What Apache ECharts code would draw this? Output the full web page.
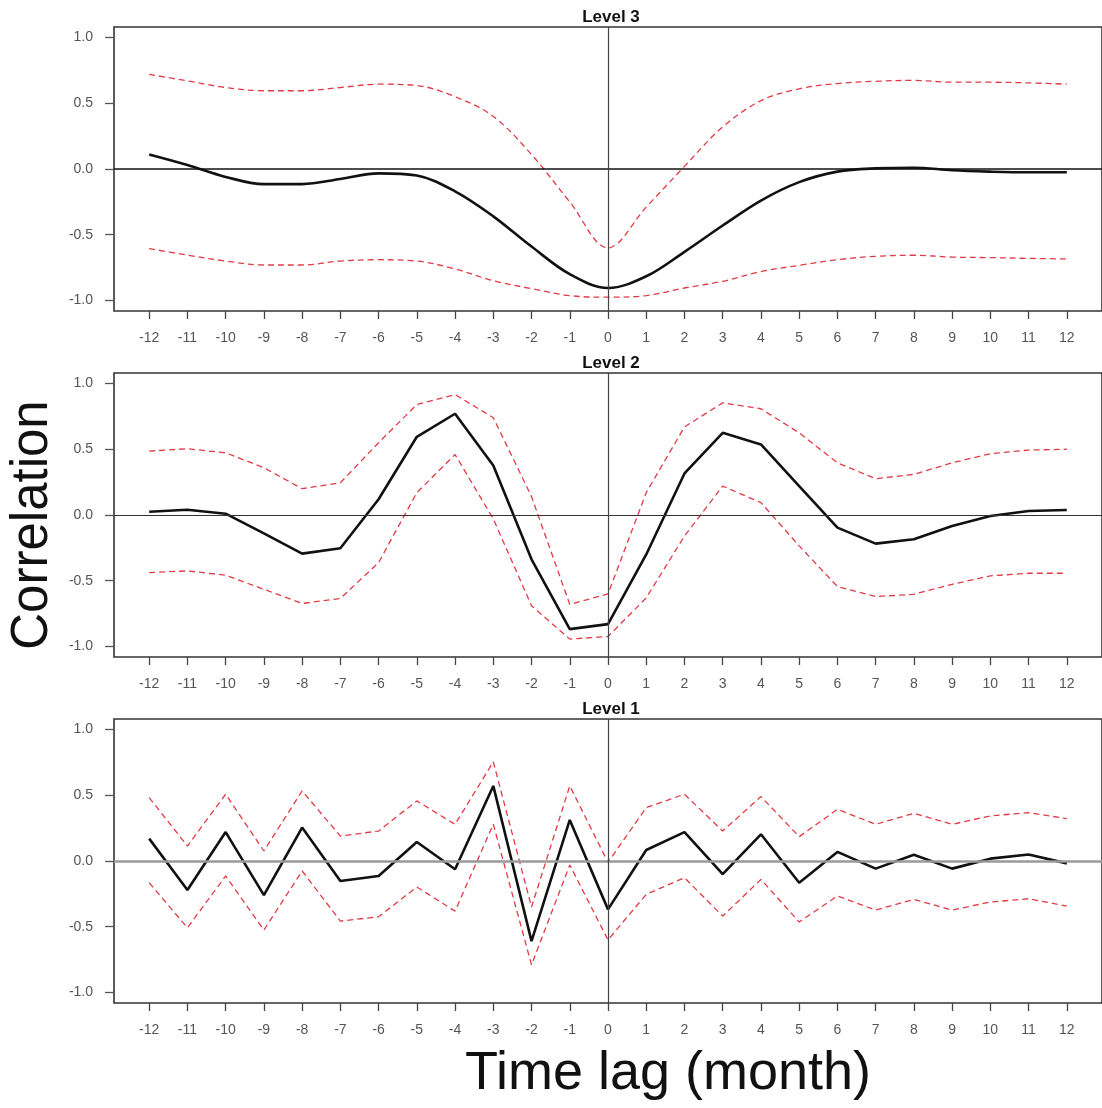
<!DOCTYPE html>
<html>
<head>
<meta charset="utf-8">
<title>Cross-correlation by level</title>
<script src="https://cdn.jsdelivr.net/npm/echarts@6/dist/echarts.min.js"></script>
<style>
  html, body { margin: 0; padding: 0; background: #fff; }
  #chart { width: 1102px; height: 1108px; }
</style>
</head>
<body>
<div id="chart"></div>
<script>
// Time lags in months
const lags = [-12, -11, -10, -9, -8, -7, -6, -5, -4, -3, -2, -1, 0, 1, 2, 3, 4, 5, 6, 7, 8, 9, 10, 11, 12];
const yTicks = [-1.0, -0.5, 0.0, 0.5, 1.0];

// Level 3: correlation and confidence band
const level3Corr  = [0.11, 0.03, -0.06, -0.115, -0.115, -0.076, -0.033, -0.05, -0.17, -0.36, -0.59, -0.80, -0.905, -0.816, -0.63, -0.43, -0.24, -0.10, -0.02, 0.005, 0.01, -0.01, -0.02, -0.025, -0.025];
const level3Upper = [0.72, 0.67, 0.62, 0.595, 0.595, 0.62, 0.645, 0.635, 0.55, 0.40, 0.11, -0.25, -0.60, -0.29, 0.02, 0.32, 0.52, 0.61, 0.65, 0.667, 0.674, 0.66, 0.66, 0.655, 0.645];
const level3Lower = [-0.605, -0.655, -0.70, -0.73, -0.73, -0.70, -0.69, -0.70, -0.76, -0.85, -0.91, -0.963, -0.975, -0.963, -0.905, -0.854, -0.78, -0.733, -0.69, -0.664, -0.656, -0.67, -0.674, -0.68, -0.684];

// Level 2
const level2Corr  = [0.025, 0.04, 0.01, -0.14, -0.294, -0.253, 0.12, 0.595, 0.77, 0.377, -0.337, -0.868, -0.83, -0.30, 0.316, 0.625, 0.537, 0.22, -0.096, -0.218, -0.185, -0.084, -0.008, 0.03, 0.038];
const level2Upper = [0.486, 0.504, 0.473, 0.36, 0.20, 0.245, 0.55, 0.84, 0.916, 0.74, 0.14, -0.68, -0.60, 0.17, 0.67, 0.853, 0.808, 0.625, 0.397, 0.276, 0.309, 0.397, 0.466, 0.494, 0.50];
const level2Lower = [-0.438, -0.425, -0.458, -0.565, -0.673, -0.635, -0.362, 0.17, 0.46, -0.03, -0.69, -0.944, -0.924, -0.63, -0.16, 0.22, 0.094, -0.235, -0.544, -0.62, -0.603, -0.527, -0.463, -0.443, -0.443];

// Level 1
const level1Corr  = [0.17, -0.22, 0.22, -0.26, 0.254, -0.152, -0.114, 0.145, -0.063, 0.571, -0.609, 0.312, -0.368, 0.084, 0.22, -0.10, 0.203, -0.165, 0.069, -0.058, 0.048, -0.058, 0.018, 0.05, -0.018];
const level1Upper = [0.482, 0.114, 0.508, 0.076, 0.533, 0.19, 0.228, 0.457, 0.279, 0.754, -0.35, 0.571, -0.01, 0.406, 0.508, 0.228, 0.49, 0.185, 0.393, 0.279, 0.363, 0.279, 0.343, 0.368, 0.322];
const level1Lower = [-0.165, -0.508, -0.114, -0.525, -0.076, -0.457, -0.424, -0.198, -0.381, 0.28, -0.79, -0.03, -0.60, -0.254, -0.127, -0.419, -0.14, -0.464, -0.266, -0.373, -0.292, -0.373, -0.312, -0.287, -0.343];

const panels = [
  { title: 'Level 3', corr: level3Corr, upper: level3Upper, lower: level3Lower, top: 27,  smooth: 0.35, zeroColor: '#111', zeroWidth: 1.6 },
  { title: 'Level 2', corr: level2Corr, upper: level2Upper, lower: level2Lower, top: 373, smooth: false, zeroColor: '#333', zeroWidth: 1.2 },
  { title: 'Level 1', corr: level1Corr, upper: level1Upper, lower: level1Lower, top: 719, smooth: false, zeroColor: '#9a9a9a', zeroWidth: 2.6 }
];

const GRID_LEFT = 114, GRID_WIDTH = 995, GRID_HEIGHT = 284;
const FONT = '"Liberation Sans", Arial, Helvetica, sans-serif';

const pairs = (vals) => lags.map((l, i) => [l, vals[i]]);

const grids = [], xAxes = [], yAxes = [], series = [], graphics = [];

panels.forEach((p, k) => {
  grids.push({
    left: GRID_LEFT, top: p.top, width: GRID_WIDTH, height: GRID_HEIGHT,
    show: true, borderColor: '#333', borderWidth: 1.6, backgroundColor: 'transparent'
  });
  xAxes.push({
    type: 'value', gridIndex: k, min: -12.92, max: 12.92, position: 'bottom',
    axisLine: { show: false, onZero: false },
    splitLine: { show: false },
    axisTick: { show: true, inside: false, length: 8, customValues: lags, lineStyle: { color: '#444', width: 1.3 } },
    axisLabel: { show: true, customValues: lags, margin: 20, color: '#555', fontSize: 14, fontFamily: FONT }
  });
  yAxes.push({
    type: 'value', gridIndex: k, min: -1.08, max: 1.08, position: 'left',
    axisLine: { show: false, onZero: false },
    splitLine: { show: false },
    axisTick: { show: true, inside: false, length: 9, customValues: yTicks, lineStyle: { color: '#555', width: 1.3 } },
    axisLabel: { show: true, customValues: yTicks, margin: 21, color: '#555', fontSize: 14, fontFamily: FONT,
                 formatter: (v) => v.toFixed(1) }
  });

  const bandStyle = { color: '#e23a45', width: 1.3, type: [6, 4] };
  series.push({
    type: 'line', xAxisIndex: k, yAxisIndex: k, data: pairs(p.upper),
    showSymbol: false, smooth: p.smooth, lineStyle: bandStyle, z: 3, silent: true
  });
  series.push({
    type: 'line', xAxisIndex: k, yAxisIndex: k, data: pairs(p.lower),
    showSymbol: false, smooth: p.smooth, lineStyle: bandStyle, z: 3, silent: true
  });
  series.push({
    type: 'line', xAxisIndex: k, yAxisIndex: k, data: pairs(p.corr),
    showSymbol: false, smooth: p.smooth,
    lineStyle: { color: '#111', width: 2.6 }, z: 4, silent: true,
    markLine: {
      silent: true, symbol: 'none', animation: false,
      label: { show: false },
      data: [
        { yAxis: 0, lineStyle: { color: p.zeroColor, width: p.zeroWidth, type: 'solid' } },
        { xAxis: 0, lineStyle: { color: '#444', width: 1.2, type: 'solid' } }
      ]
    }
  });

  graphics.push({
    type: 'text', x: 611, y: p.top - 10,
    style: { text: p.title, fill: '#111', fontSize: 17, fontWeight: 'bold', fontFamily: FONT, align: 'center', verticalAlign: 'middle' }
  });
});

graphics.push({
  type: 'text', x: 33, y: 525, rotation: Math.PI / 2,
  style: { text: 'Correlation', fill: '#111', fontSize: 51, fontFamily: FONT, align: 'center', verticalAlign: 'middle' }
});
graphics.push({
  type: 'text', x: 668, y: 1074,
  style: { text: 'Time lag (month)', fill: '#111', fontSize: 54, fontFamily: FONT, align: 'center', verticalAlign: 'middle' }
});

const chart = echarts.init(document.getElementById('chart'), null, { renderer: 'canvas' });
chart.setOption({
  animation: false,
  backgroundColor: '#fff',
  grid: grids,
  xAxis: xAxes,
  yAxis: yAxes,
  series: series,
  graphic: graphics
});
</script>
</body>
</html>
